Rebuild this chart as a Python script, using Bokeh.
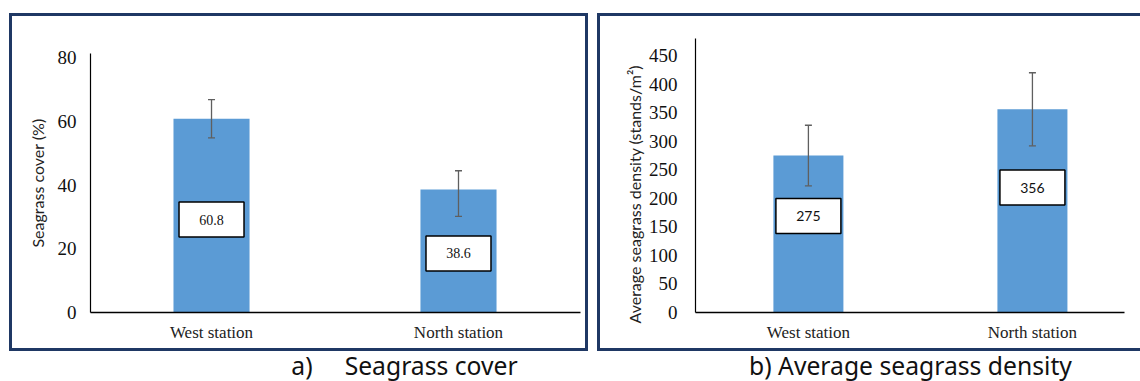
from bokeh.plotting import figure
from bokeh.layouts import row, column
from bokeh.models import Range1d, FixedTicker, ColumnDataSource, Whisker, TeeHead, Title
from bokeh.core.properties import value
from bokeh.embed import file_html
from bokeh.resources import INLINE

try:
    from bokeh.models import GlobalInlineStyleSheet
except ImportError:
    GlobalInlineStyleSheet = None

# ---- data -------------------------------------------------------------
stations = ["West station", "North station"]

cover_mean = [60.8, 38.6]          # seagrass cover (%)
cover_err_up = [6.0, 5.9]
cover_err_down = [6.0, 8.4]
cover_ticks = [0, 20, 40, 60, 80]

density_mean = [275, 356]          # stands per m2
density_err_up = [53, 64]
density_err_down = [53, 64]
density_ticks = [0, 50, 100, 150, 200, 250, 300, 350, 400, 450]

caption_a = "a)\u00a0\u00a0\u00a0\u00a0\u00a0Seagrass cover"
caption_b = "b) Average seagrass density"

# ---- style --------------------------------------------------------------
BAR = "#5B9BD5"
ERR = "#5f5f5f"
FRAME = "#1f3864"
SERIF = "Liberation Serif"


def panel(means, up, down, ticks, y_end, *, width, height, borders,
          x_span, bar_width, label_frac, label_font, label_size, tick_standoff):
    p = figure(width=width, height=height, title=None,
               x_range=Range1d(*x_span), y_range=Range1d(0, y_end),
               output_backend="svg", toolbar_location=None,
               min_border_left=borders[0], min_border_right=borders[1],
               min_border_top=borders[2], min_border_bottom=borders[3])
    p.frame_align = False
    p.grid.visible = False
    p.outline_line_color = None

    xs = list(range(len(stations)))
    src = ColumnDataSource(dict(
        x=xs,
        top=means,
        upper=[m + u for m, u in zip(means, up)],
        lower=[m - d for m, d in zip(means, down)],
        label_y=[m * label_frac for m in means],
        label=[f"{m:g}" for m in means],
    ))

    p.vbar(x="x", top="top", width=bar_width, source=src,
           fill_color=BAR, line_color=None)

    whisk = Whisker(base="x", upper="upper", lower="lower", source=src,
                    line_color=ERR, line_width=1.3, level="overlay",
                    upper_head=TeeHead(size=7, line_color=ERR, line_width=1.3),
                    lower_head=TeeHead(size=7, line_color=ERR, line_width=1.3))
    p.add_layout(whisk)

    # value boxes inside the bars
    p.rect(x="x", y="label_y", width=65, height=35, width_units="screen",
           height_units="screen", source=src, fill_color="white",
           line_color="black", line_width=1.5)
    p.text(x="x", y="label_y", text="label", source=src,
           text_align="center", text_baseline="middle",
           text_font=value(label_font), text_font_size=f"{label_size}px",
           text_color="#111111")

    xa = p.xaxis[0]
    xa.ticker = FixedTicker(ticks=xs)
    xa.major_label_overrides = {i: s for i, s in enumerate(stations)}
    xa.major_tick_out = 0
    xa.major_tick_in = 0
    xa.minor_tick_out = 0
    xa.minor_tick_in = 0
    xa.axis_line_color = "black"
    xa.axis_line_width = 1.6
    xa.major_label_standoff = 10
    xa.major_label_text_font = SERIF
    xa.major_label_text_font_size = "17px"
    xa.major_label_text_color = "#222222"

    ya = p.yaxis[0]
    ya.ticker = FixedTicker(ticks=ticks)
    ya.major_tick_out = 0
    ya.major_tick_in = 0
    ya.minor_tick_out = 0
    ya.minor_tick_in = 0
    ya.axis_line_color = "black"
    ya.axis_line_width = 1.2
    ya.major_label_standoff = tick_standoff
    ya.major_label_text_font = SERIF
    ya.major_label_text_font_size = "19px"
    ya.major_label_text_color = "#111111"
    return p


def style_title(obj):
    obj.text_font = "Lato"
    obj.text_font_style = "normal"
    obj.text_font_size = "16px"
    obj.text_color = "#222222"


fig_a = panel(cover_mean, cover_err_up, cover_err_down, cover_ticks, 81.3,
              width=573, height=332, borders=(78, 5, 37, 36),
              x_span=(-0.490, 1.494), bar_width=0.308, label_frac=0.48,
              label_font=SERIF, label_size=14, tick_standoff=14)
ya = fig_a.yaxis[0]
ya.axis_label = "Seagrass cover (%)"
ya.axis_label_standoff = 8
ya.axis_label_text_font = "Lato"
ya.axis_label_text_font_style = "normal"
ya.axis_label_text_font_size = "16px"
ya.axis_label_text_color = "#222222"
fig_a.margin = (16, 15, 0, 12)
fig_a.stylesheets = [f":host{{outline:3px solid {FRAME};}}"]

fig_b = panel(density_mean, density_err_up, density_err_down, density_ticks, 480,
              width=540, height=332, borders=(95, 16, 22, 36),
              x_span=(-0.504, 1.411), bar_width=0.3125, label_frac=0.615,
              label_font="Lato", label_size=14, tick_standoff=18)
# vertical title sits a little lower than the frame centre
y_title_b = Title(text="Average seagrass density (stands/m\u00b2)",
                  align="left", offset=-11, vertical_align="bottom", standoff=4)
style_title(y_title_b)
fig_b.add_layout(y_title_b, "left")
fig_b.margin = (16, 0, 0, 0)
fig_b.stylesheets = [
    ":host{box-shadow:"
    f"-3px 0 0 0 {FRAME}, 0 -3px 0 0 {FRAME}, 0 3px 0 0 {FRAME},"
    f"-3px -3px 0 0 {FRAME}, -3px 3px 0 0 {FRAME};}}"
]

# panel captions underneath the two boxes (transparent so the box edges show)
cap = figure(width=1140, height=33, title=None, x_range=Range1d(0, 1140),
             y_range=Range1d(0, 1), x_axis_type=None, y_axis_type=None,
             output_backend="svg", toolbar_location=None, min_border=0)
cap.frame_align = False
cap.grid.visible = False
cap.outline_line_color = None
cap.background_fill_color = None
cap.border_fill_color = None
cap.text(x=[404, 910], y=[0.48, 0.48], text=[caption_a, caption_b],
         text_align="center", text_baseline="middle",
         text_font=value("Noto Sans"), text_font_size="24.7px",
         text_color="#111111")

layout = column(row(fig_a, fig_b), cap)
if GlobalInlineStyleSheet is not None:
    layout.stylesheets = [GlobalInlineStyleSheet(css="html,body{margin:0;padding:0;overflow:hidden;}")]

open("out.html", "w").write(file_html(layout, INLINE))
